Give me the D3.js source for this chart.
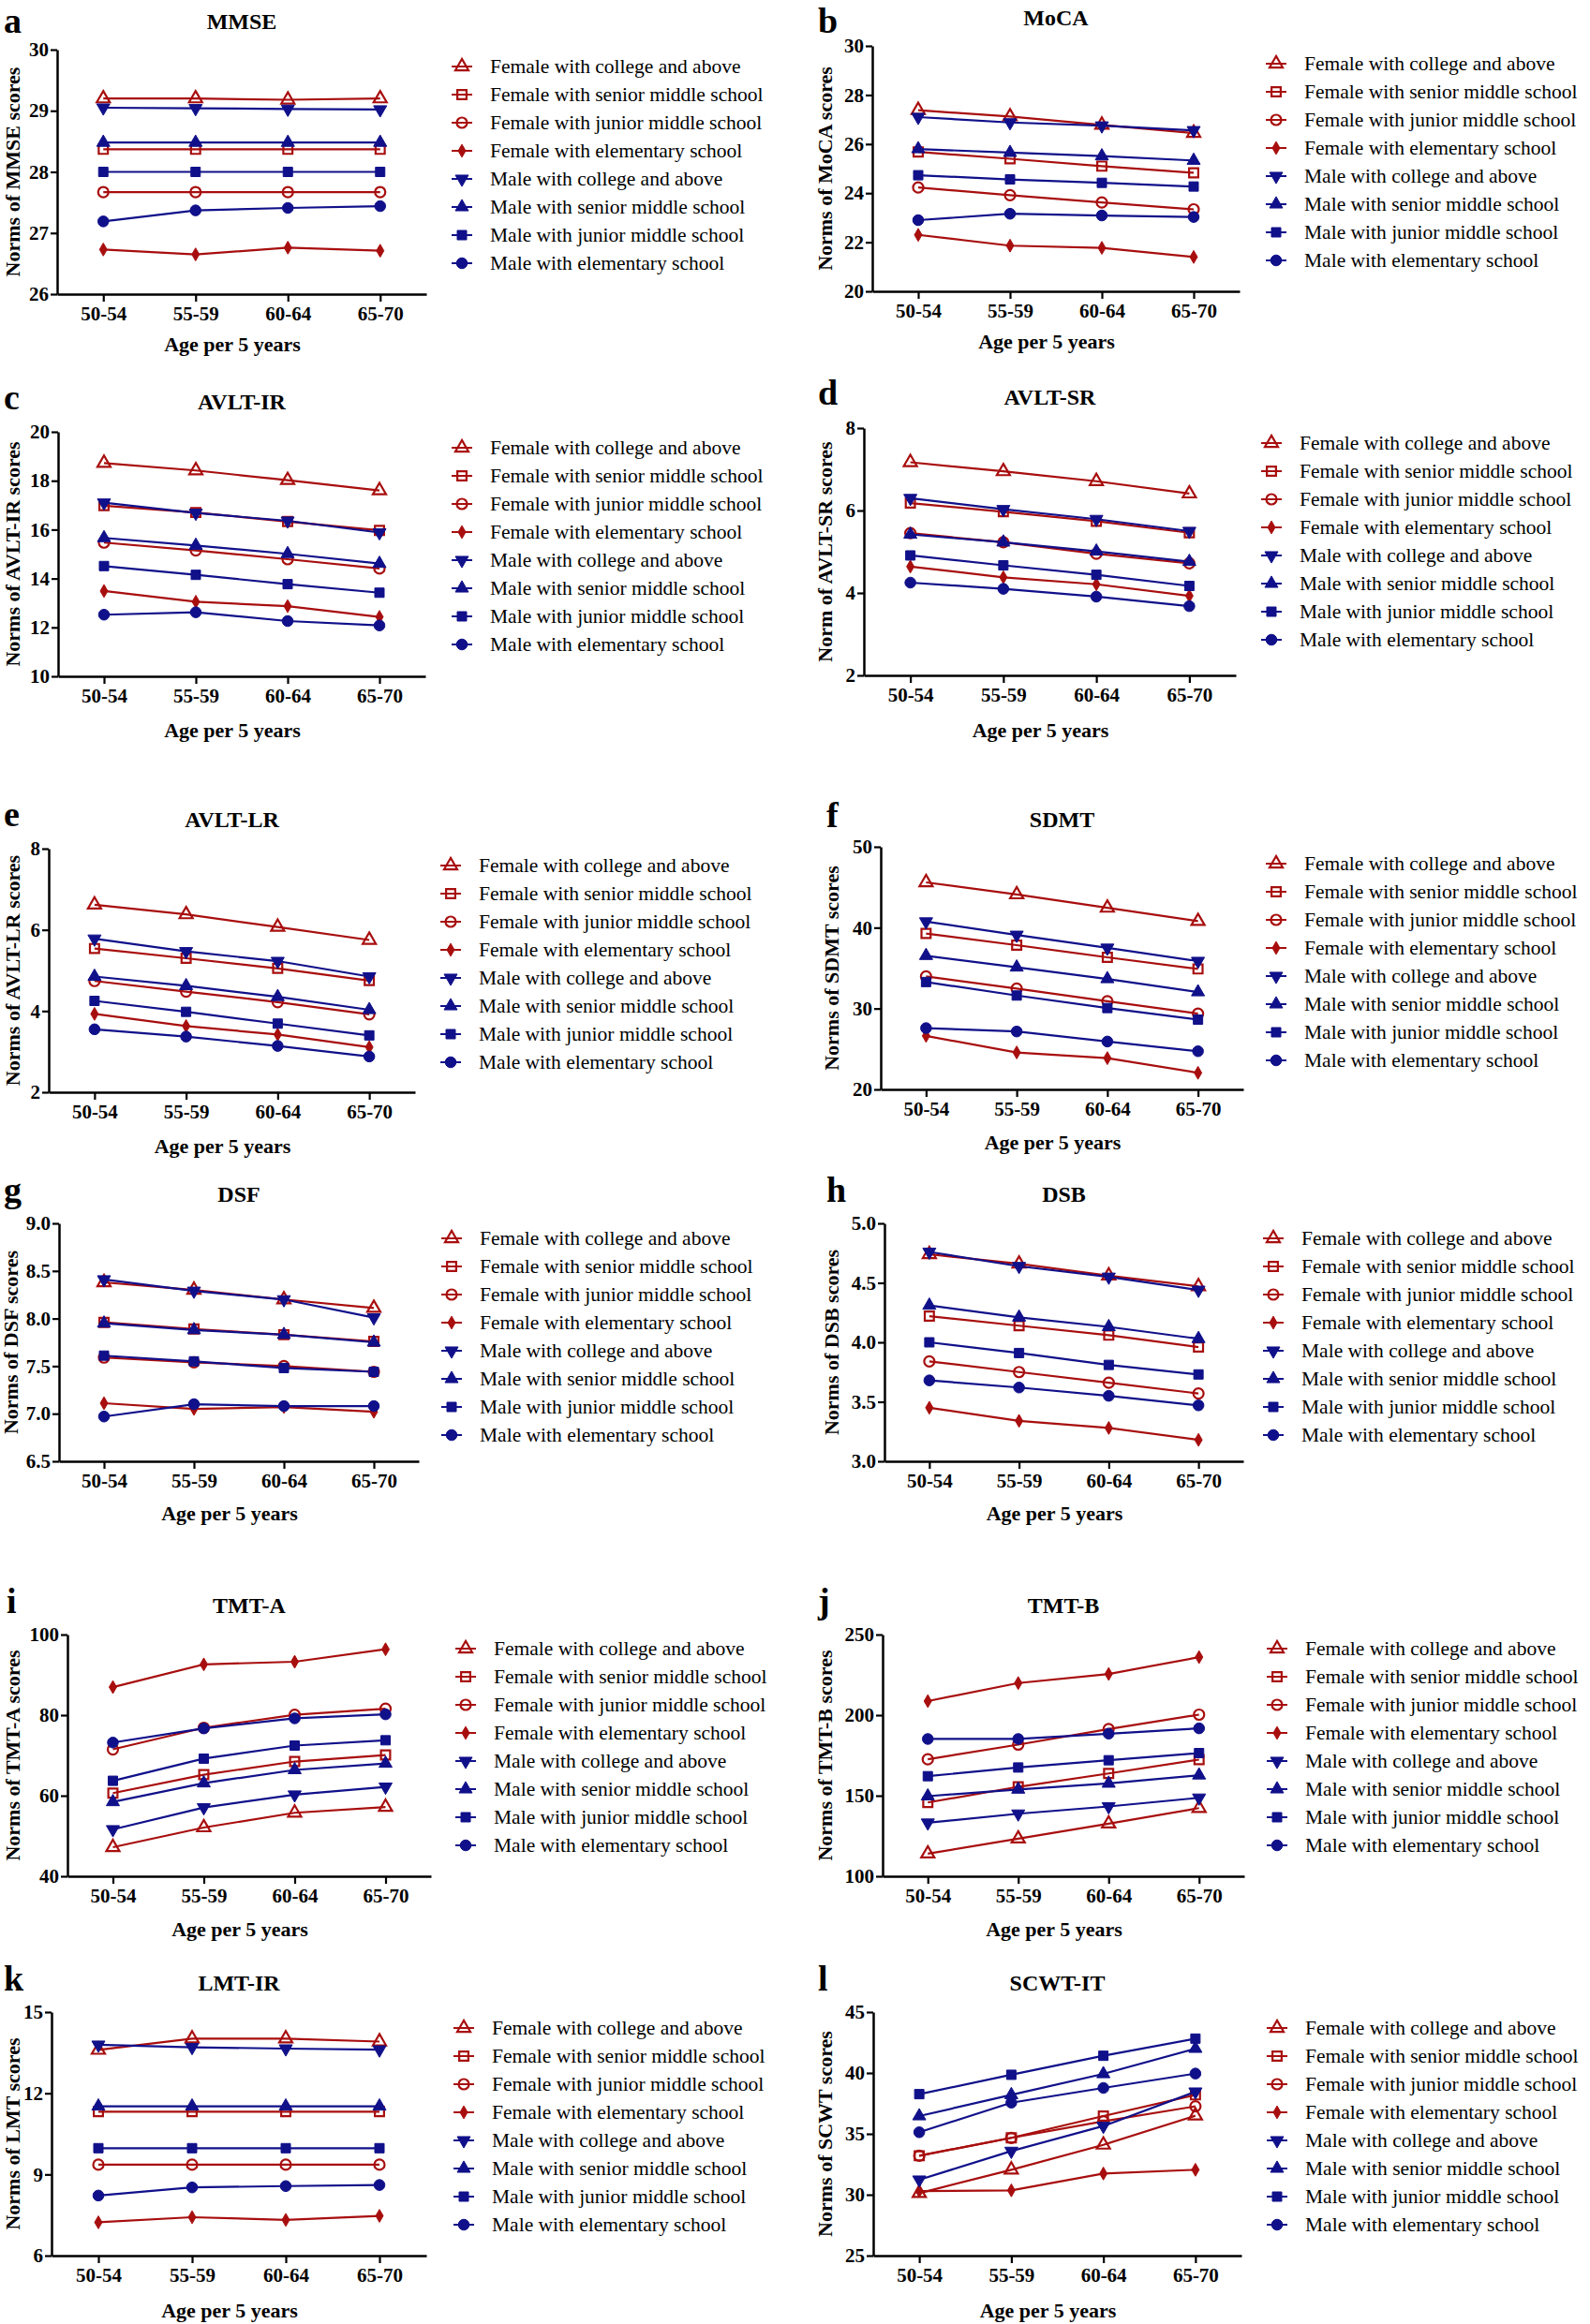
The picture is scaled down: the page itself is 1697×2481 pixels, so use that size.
<!DOCTYPE html>
<html><head><meta charset="utf-8">
<script src="https://cdn.jsdelivr.net/npm/d3@7"></script>
<style>
html,body{margin:0;padding:0;background:#fff;}
svg{display:block;font-family:"Liberation Serif","Times New Roman",serif;}
</style></head>
<body>
<svg id="chart" width="1697" height="2481"></svg>
<script>
const categories = ["50-54","55-59","60-64","65-70"];
const seriesNames = [
  "Female with college and above","Female with senior middle school","Female with junior middle school","Female with elementary school",
  "Male with college and above","Male with senior middle school","Male with junior middle school","Male with elementary school"
];
// values per series in order of seriesNames
const mmse = [
  [29.2,29.2,29.18,29.2],[28.37,28.37,28.37,28.37],[27.67,27.67,27.67,27.67],[26.73,26.65,26.76,26.71],
  [29.05,29.04,29.03,29.02],[28.48,28.48,28.48,28.48],[28.0,28.0,28.0,28.0],[27.19,27.37,27.41,27.44]
];
const moca = [
  [27.38,27.12,26.78,26.45],[25.68,25.4,25.1,24.83],[24.23,23.92,23.62,23.34],[22.3,21.86,21.77,21.4],
  [27.1,26.88,26.75,26.56],[25.8,25.65,25.51,25.33],[24.73,24.56,24.42,24.27],[22.9,23.16,23.09,23.03]
];
const avltIR = [
  [18.72,18.42,18.02,17.6],[16.98,16.7,16.33,15.97],[15.47,15.15,14.79,14.41],[13.49,13.05,12.87,12.43],
  [17.1,16.68,16.36,15.88],[15.66,15.35,15.01,14.61],[14.51,14.15,13.77,13.42],[12.52,12.62,12.26,12.08]
];
const avltSR = [
  [7.17,6.95,6.71,6.41],[6.18,5.97,5.74,5.46],[5.45,5.23,4.95,4.72],[4.64,4.38,4.21,3.93],
  [6.3,6.03,5.79,5.5],[5.42,5.23,5.01,4.76],[4.91,4.67,4.44,4.17],[4.25,4.1,3.91,3.68]
];
const avltLR = [
  [6.62,6.38,6.07,5.75],[5.54,5.3,5.05,4.75],[4.74,4.48,4.22,3.92],[3.93,3.63,3.42,3.11],
  [5.78,5.47,5.23,4.85],[4.85,4.62,4.35,4.03],[4.25,3.98,3.69,3.4],[3.55,3.37,3.14,2.88]
];
const sdmt = [
  [45.6,44.1,42.45,40.8],[39.28,37.84,36.33,34.9],[33.97,32.46,30.91,29.37],[26.62,24.57,23.87,22.05],
  [40.75,39.1,37.5,35.87],[36.53,35.1,33.66,32.04],[33.28,31.61,30.06,28.63],[27.58,27.16,25.92,24.72]
];
const dsf = [
  [8.38,8.3,8.2,8.11],[7.96,7.89,7.83,7.76],[7.59,7.54,7.5,7.44],[7.11,7.05,7.07,7.02],
  [8.41,8.29,8.2,8.01],[7.95,7.88,7.83,7.75],[7.61,7.55,7.48,7.44],[6.97,7.1,7.08,7.08]
];
const dsb = [
  [4.74,4.66,4.56,4.47],[4.22,4.14,4.06,3.96],[3.84,3.75,3.66,3.57],[3.45,3.34,3.28,3.18],
  [4.76,4.64,4.55,4.44],[4.31,4.21,4.13,4.03],[4.0,3.91,3.81,3.73],[3.68,3.62,3.55,3.47]
];
const tmtA = [
  [47.2,52.1,55.75,57.2],[60.64,65.22,68.48,70.1],[71.5,76.86,80.1,81.6],[86.96,92.6,93.25,96.35],
  [51.63,57.07,60.25,62.2],[58.46,63.12,66.4,68.0],[63.7,69.2,72.44,73.76],[73.2,76.7,79.2,80.2]
];
const tmtB = [
  [114,123.3,132.6,142.3],[145.8,155.5,163.8,172.4],[172.6,181.7,191.4,200.3],[208.7,219.9,225.55,236.0],
  [133.2,138.8,143.3,148.7],[149.7,153.9,157.6,162.7],[162.1,167.5,172.0,176.45],[185.2,185.2,188.5,191.8]
];
const lmtIR = [
  [13.6,14.02,14.02,13.91],[11.32,11.32,11.32,11.32],[9.36,9.36,9.36,9.36],[7.23,7.42,7.32,7.47],
  [13.79,13.7,13.65,13.61],[11.52,11.52,11.52,11.52],[9.97,9.97,9.97,9.97],[8.22,8.52,8.57,8.61]
];
const scwtIT = [
  [30.13,32.05,34.1,36.49],[33.2,34.67,36.46,38.2],[33.2,34.67,36.03,37.26],[30.3,30.36,31.74,32.05],
  [31.23,33.59,35.64,38.46],[36.46,38.2,39.92,42.0],[38.26,39.85,41.41,42.82],[35.13,37.56,38.77,39.95]
];
const yTicksA = [26,27,28,29,30];
const yTicksB = [20,22,24,26,28,30];
const yTicksC = [10,12,14,16,18,20];
const yTicksD = [2,4,6,8];
const yTicksE = [2,4,6,8];
const yTicksF = [20,30,40,50];
const yTicksG = [6.5,7.0,7.5,8.0,8.5,9.0];
const yTicksH = [3.0,3.5,4.0,4.5,5.0];
const yTicksI = [40,60,80,100];
const yTicksJ = [100,150,200,250];
const yTicksK = [6,9,12,15];
const yTicksL = [25,30,35,40,45];

const panels = [
  {letter:"a", title:"MMSE", ylab:"Norms of MMSE scores", data:mmse, ticks:yTicksA, fmt:"d",
   ax:61, xEnd:455, yTop:53, yBot:314, ty:31, ly:35, lx:4, ylx:21, xlY:375, legX:493, legY:71},
  {letter:"b", title:"MoCA", ylab:"Norms of MoCA scores", data:moca, ticks:yTicksB, fmt:"d",
   ax:931, xEnd:1323, yTop:49, yBot:311, ty:27, ly:35, lx:873, ylx:888, xlY:372, legX:1362, legY:68},
  {letter:"c", title:"AVLT-IR", ylab:"Norms of AVLT-IR scores", data:avltIR, ticks:yTicksC, fmt:"d",
   ax:62, xEnd:454, yTop:461, yBot:722, ty:437, ly:437, lx:4, ylx:21, xlY:787, legX:493, legY:478},
  {letter:"d", title:"AVLT-SR", ylab:"Norm of AVLT-SR scores", data:avltSR, ticks:yTicksD, fmt:"d",
   ax:922, xEnd:1319, yTop:457, yBot:721, ty:432, ly:432, lx:873, ylx:888, xlY:787, legX:1357, legY:473},
  {letter:"e", title:"AVLT-LR", ylab:"Norms of AVLT-LR scores", data:avltLR, ticks:yTicksE, fmt:"d",
   ax:52, xEnd:443, yTop:906, yBot:1166, ty:883, ly:882, lx:4, ylx:21, xlY:1231, legX:481, legY:924},
  {letter:"f", title:"SDMT", ylab:"Norms of SDMT scores", data:sdmt, ticks:yTicksF, fmt:"d",
   ax:940, xEnd:1327, yTop:904, yBot:1163, ty:883, ly:883, lx:882, ylx:895, xlY:1227, legX:1362, legY:922},
  {letter:"g", title:"DSF", ylab:"Norms of DSF scores", data:dsf, ticks:yTicksG, fmt:".1f",
   ax:63, xEnd:447, yTop:1306, yBot:1560, ty:1283, ly:1283, lx:4, ylx:19, xlY:1623, legX:482, legY:1322},
  {letter:"h", title:"DSB", ylab:"Norms of DSB scores", data:dsb, ticks:yTicksH, fmt:".1f",
   ax:944, xEnd:1327, yTop:1306, yBot:1560, ty:1283, ly:1283, lx:882, ylx:895, xlY:1623, legX:1359, legY:1322},
  {letter:"i", title:"TMT-A", ylab:"Norms of TMT-A scores", data:tmtA, ticks:yTicksI, fmt:"d",
   ax:72, xEnd:460, yTop:1745, yBot:2003, ty:1722, ly:1722, lx:7, ylx:21, xlY:2067, legX:497, legY:1760},
  {letter:"j", title:"TMT-B", ylab:"Norms of TMT-B scores", data:tmtB, ticks:yTicksJ, fmt:"d",
   ax:942, xEnd:1328, yTop:1745, yBot:2003, ty:1722, ly:1722, lx:873, ylx:888, xlY:2067, legX:1363, legY:1760},
  {letter:"k", title:"LMT-IR", ylab:"Norms of LMT scores", data:lmtIR, ticks:yTicksK, fmt:"d",
   ax:55, xEnd:455, yTop:2148, yBot:2408, ty:2125, ly:2125, lx:4, ylx:21, xlY:2474, legX:495, legY:2165},
  {letter:"l", title:"SCWT-IT", ylab:"Norms of SCWT scores", data:scwtIT, ticks:yTicksL, fmt:"d",
   ax:932, xEnd:1325, yTop:2148, yBot:2408, ty:2125, ly:2125, lx:873, ylx:888, xlY:2474, legX:1363, legY:2165}
];

const RED = "#A80E0E", BLUE = "#10108A";
const styles = [
  {c:RED, sym:d3.symbolTriangle, size:85, fill:false, rot:0},
  {c:RED, sym:d3.symbolSquare, size:95, fill:false, rot:0},
  {c:RED, sym:d3.symbolCircle, size:95, fill:false, rot:0},
  {c:RED, sym:d3.symbolDiamond, size:55, fill:true, rot:0},
  {c:BLUE, sym:d3.symbolTriangle, size:85, fill:true, rot:180},
  {c:BLUE, sym:d3.symbolTriangle, size:85, fill:true, rot:0},
  {c:BLUE, sym:d3.symbolSquare, size:100, fill:true, rot:0},
  {c:BLUE, sym:d3.symbolCircle, size:105, fill:true, rot:0}
];

const svg = d3.select("#chart");
svg.append("rect").attr("width",1697).attr("height",2481).attr("fill","#fff");

function drawMarker(g, st, cx, cy) {
  g.append("path")
    .attr("d", d3.symbol().type(st.sym).size(st.size)())
    .attr("transform", `translate(${cx},${cy}) rotate(${st.rot})`)
    .attr("fill", st.fill ? st.c : "none")
    .attr("stroke", st.c)
    .attr("stroke-width", st.fill ? 1 : 2.2);
}

panels.forEach(p => {
  const g = svg.append("g");
  const x = d3.scalePoint().domain(categories).range([p.ax, p.xEnd]).padding(0.5);
  const y = d3.scaleLinear().domain([p.ticks[0], p.ticks[p.ticks.length-1]]).range([p.yBot, p.yTop]);
  const mid = (x(categories[0]) + x(categories[3])) / 2;

  // panel letter and title
  g.append("text").attr("x", p.lx).attr("y", p.ly).attr("font-size", 38).attr("font-weight", "bold").text(p.letter);
  g.append("text").attr("x", mid).attr("y", p.ty).attr("text-anchor","middle").attr("font-size", 24).attr("font-weight","bold").text(p.title);

  // axes
  const xa = g.append("g").attr("transform", `translate(0,${p.yBot})`)
    .call(d3.axisBottom(x).tickSize(8).tickSizeOuter(0).tickPadding(5));
  const ya = g.append("g").attr("transform", `translate(${p.ax},0)`)
    .call(d3.axisLeft(y).tickValues(p.ticks).tickFormat(d3.format(p.fmt)).tickSize(7).tickSizeOuter(0).tickPadding(2));
  [xa, ya].forEach(a => {
    a.select(".domain").attr("stroke","#000").attr("stroke-width",2.5);
    a.selectAll(".tick line").attr("stroke","#000").attr("stroke-width",2.2);
    a.selectAll(".tick text").attr("fill","#000").attr("font-size",21).attr("font-weight","bold")
      .attr("font-family","Liberation Serif, Times New Roman, serif");
  });

  // axis titles
  g.append("text").attr("x", mid - 10).attr("y", p.xlY).attr("text-anchor","middle")
    .attr("font-size", 22).attr("font-weight","bold").text("Age per 5 years");
  g.append("text").attr("transform", `translate(${p.ylx},${(p.yTop+p.yBot)/2}) rotate(-90)`)
    .attr("text-anchor","middle").attr("font-size", 22).attr("font-weight","bold").text(p.ylab);

  // series
  const line = d3.line().x((d,i) => x(categories[i])).y(d => y(d));
  p.data.forEach((vals, si) => {
    const st = styles[si];
    g.append("path").attr("d", line(vals)).attr("fill","none").attr("stroke", st.c).attr("stroke-width", 2.2);
    vals.forEach((v,i) => drawMarker(g, st, x(categories[i]), y(v)));
  });

  // legend
  seriesNames.forEach((name, si) => {
    const st = styles[si];
    const ly = p.legY + si * 30;
    g.append("line").attr("x1", p.legX - 11).attr("x2", p.legX + 11).attr("y1", ly).attr("y2", ly)
      .attr("stroke", st.c).attr("stroke-width", 2);
    drawMarker(g, st, p.legX, ly);
    g.append("text").attr("x", p.legX + 30).attr("y", ly + 7).attr("font-size", 21.5).attr("fill","#000").text(name);
  });
});
</script>
</body></html>
